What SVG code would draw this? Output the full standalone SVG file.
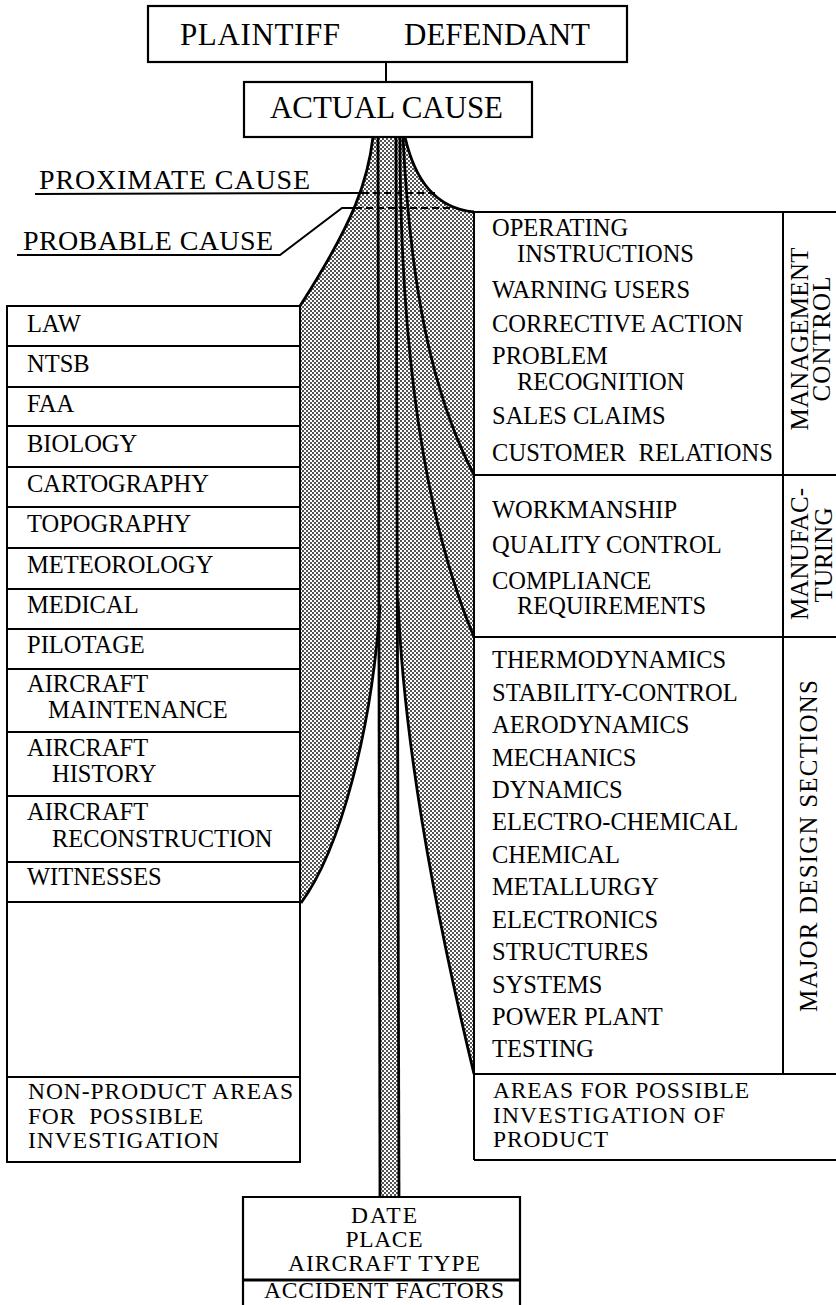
<svg xmlns="http://www.w3.org/2000/svg" width="836" height="1305" viewBox="0 0 836 1305" font-family="'Liberation Serif', 'Times New Roman', Times, 'DejaVu Serif', serif">
<defs>
<pattern id="dots" width="4" height="4" patternUnits="userSpaceOnUse">
<rect width="4" height="4" fill="#fff"/>
<rect x="0" y="0" width="2" height="2" fill="#555"/>
<rect x="2" y="2" width="2" height="2" fill="#555"/>
</pattern>
<style>
text{font-family:'Liberation Serif','Times New Roman',Times,'DejaVu Serif',serif;fill:#000}
.big{font-size:31px}
.lab{font-size:28px}
.li{font-size:24.5px}
.sm{font-size:23.5px}
.bx{font-size:23.5px}
.vt{font-size:25px}
.box{fill:#fff;stroke:#000;stroke-width:2.2}
.ln{stroke:#000;stroke-width:2;fill:none}
.cv{stroke:#000;stroke-width:2.8;fill:none}
.dash{stroke:#000;stroke-width:1.8;fill:none;stroke-dasharray:7 4}
.sh{fill:url(#dots);stroke:none}
</style>
</defs>
<rect width="836" height="1305" fill="#fff"/>

<g id="funnel">
<path class="sh" d="M373,137 C368,180 355,220 300,306 L300,903 C340,850 372,730 380,605 L378,137 Z"/>
<path class="sh" d="M378,137 L396,137 L399,1197 L380,1197 Z"/>
<path class="sh" d="M396,137 L398,600 C402,700 420,850 474,1074 L474,212 C435,208 415,180 405,137 Z"/>
<path class="cv" d="M373,137 C368,180 355,220 300,306"/>
<path class="cv" d="M405,137 C415,180 435,208 474,212"/>
<path class="cv" d="M378,137 L380,1197"/>
<path class="cv" d="M396,137 L399,1197"/>
<path class="cv" d="M403,137 C410,280 430,390 474,475"/>
<path class="cv" d="M400,137 C400,350 425,520 474,637"/>
<path class="cv" d="M398,600 C402,700 420,850 474,1074"/>
<path class="cv" d="M380,605 C372,730 340,850 301,903"/>
</g>

<g id="connectors">
<line class="ln" x1="386" y1="62" x2="386" y2="82"/>
<polyline class="ln" points="35,194 362,193"/>
<line class="dash" x1="362" y1="193" x2="437" y2="193"/>
<polyline class="ln" points="17,255 280,255 342,208 355,208"/>
<line class="dash" x1="355" y1="208" x2="457" y2="208"/>
</g>

<g id="parties">
<rect class="box" x="148" y="6" width="479" height="56"/>
<text class="big" x="180" y="45" textLength="160">PLAINTIFF</text>
<text class="big" x="404" y="45" textLength="186">DEFENDANT</text>
</g>

<g id="actual-cause">
<rect class="box" x="244" y="82" width="288" height="55"/>
<text class="big" x="270" y="118" textLength="233">ACTUAL CAUSE</text>
</g>

<g id="proximate-cause">
<text class="lab" x="39" y="189" textLength="271">PROXIMATE CAUSE</text>
</g>
<g id="probable-cause">
<text class="lab" x="23" y="250" textLength="250">PROBABLE CAUSE</text>
</g>

<g id="non-product-areas">
<path class="ln" d="M7,306 L300,306 L300,1162 L7,1162 Z"/>
<g class="ln">
<line x1="8" y1="346" x2="299" y2="346"/>
<line x1="8" y1="387" x2="299" y2="387"/>
<line x1="8" y1="426" x2="299" y2="426"/>
<line x1="8" y1="467" x2="299" y2="467"/>
<line x1="8" y1="507" x2="299" y2="507"/>
<line x1="8" y1="548" x2="299" y2="548"/>
<line x1="8" y1="589" x2="299" y2="589"/>
<line x1="8" y1="629" x2="299" y2="629"/>
<line x1="8" y1="669" x2="299" y2="669"/>
<line x1="8" y1="732" x2="299" y2="732"/>
<line x1="8" y1="796" x2="299" y2="796"/>
<line x1="8" y1="862" x2="299" y2="862"/>
<line x1="8" y1="902" x2="299" y2="902"/>
<line x1="8" y1="1077" x2="299" y2="1077"/>
</g>
<g class="li">
<text x="27" y="332">LAW</text>
<text x="27" y="372">NTSB</text>
<text x="27" y="412">FAA</text>
<text x="27" y="452">BIOLOGY</text>
<text x="27" y="492">CARTOGRAPHY</text>
<text x="27" y="532">TOPOGRAPHY</text>
<text x="27" y="573">METEOROLOGY</text>
<text x="27" y="613">MEDICAL</text>
<text x="27" y="653">PILOTAGE</text>
<text x="27" y="692">AIRCRAFT</text>
<text x="48" y="718">MAINTENANCE</text>
<text x="27" y="756">AIRCRAFT</text>
<text x="52" y="782">HISTORY</text>
<text x="27" y="820">AIRCRAFT</text>
<text x="52" y="847">RECONSTRUCTION</text>
<text x="27" y="885">WITNESSES</text>
</g>
<g class="sm">
<text x="28" y="1099" textLength="265">NON-PRODUCT AREAS</text>
<text x="28" y="1124" textLength="175" xml:space="preserve">FOR  POSSIBLE</text>
<text x="28" y="1148" textLength="191">INVESTIGATION</text>
</g>
</g>

<g id="product-areas">
<g class="ln">
<line x1="470" y1="212" x2="836" y2="212"/>
<line x1="474" y1="212" x2="474" y2="1160"/>
<line x1="474" y1="475" x2="836" y2="475"/>
<line x1="474" y1="637" x2="836" y2="637"/>
<line x1="474" y1="1074" x2="836" y2="1074"/>
<line x1="474" y1="1160" x2="836" y2="1160"/>
<line x1="783" y1="212" x2="783" y2="1074"/>
</g>
<g id="management-control" class="li">
<text x="492" y="236">OPERATING</text>
<text x="517" y="262">INSTRUCTIONS</text>
<text x="492" y="298">WARNING USERS</text>
<text x="492" y="332">CORRECTIVE ACTION</text>
<text x="492" y="364">PROBLEM</text>
<text x="517" y="390">RECOGNITION</text>
<text x="492" y="424">SALES CLAIMS</text>
<text x="492" y="461" textLength="281" xml:space="preserve">CUSTOMER  RELATIONS</text>
</g>
<g id="manufacturing" class="li">
<text x="492" y="518">WORKMANSHIP</text>
<text x="492" y="553">QUALITY CONTROL</text>
<text x="492" y="589">COMPLIANCE</text>
<text x="517" y="614">REQUIREMENTS</text>
</g>
<g id="major-design-sections" class="li">
<text x="492" y="668">THERMODYNAMICS</text>
<text x="492" y="701">STABILITY-CONTROL</text>
<text x="492" y="733">AERODYNAMICS</text>
<text x="492" y="766">MECHANICS</text>
<text x="492" y="798">DYNAMICS</text>
<text x="492" y="830">ELECTRO-CHEMICAL</text>
<text x="492" y="863">CHEMICAL</text>
<text x="492" y="895">METALLURGY</text>
<text x="492" y="928">ELECTRONICS</text>
<text x="492" y="960">STRUCTURES</text>
<text x="492" y="993">SYSTEMS</text>
<text x="492" y="1025">POWER PLANT</text>
<text x="492" y="1057">TESTING</text>
</g>
<g class="vt" text-anchor="middle">
<text transform="translate(808,339) rotate(-90)" textLength="183">MANAGEMENT</text>
<text transform="translate(830,339) rotate(-90)" textLength="125">CONTROL</text>
<text transform="translate(808,554) rotate(-90)" textLength="132">MANUFAC-</text>
<text transform="translate(832,555) rotate(-90)" textLength="95">TURING</text>
<text transform="translate(817,846) rotate(-90)" textLength="332">MAJOR DESIGN SECTIONS</text>
</g>
<g class="sm">
<text x="493" y="1098" textLength="256">AREAS FOR POSSIBLE</text>
<text x="493" y="1123" textLength="232">INVESTIGATION OF</text>
<text x="493" y="1147" textLength="115">PRODUCT</text>
</g>
</g>

<g id="accident-data">
<path class="box" d="M243,1305 L243,1197 L520,1197 L520,1305"/>
<line x1="243" y1="1280" x2="520" y2="1280" stroke="#000" stroke-width="3"/>
<g class="bx" text-anchor="middle">
<text x="384" y="1223" textLength="66">DATE</text>
<text x="384" y="1247" textLength="77">PLACE</text>
<text x="384" y="1271" textLength="192">AIRCRAFT TYPE</text>
<text x="384" y="1298" textLength="240">ACCIDENT FACTORS</text>
</g>
</g>
</svg>
